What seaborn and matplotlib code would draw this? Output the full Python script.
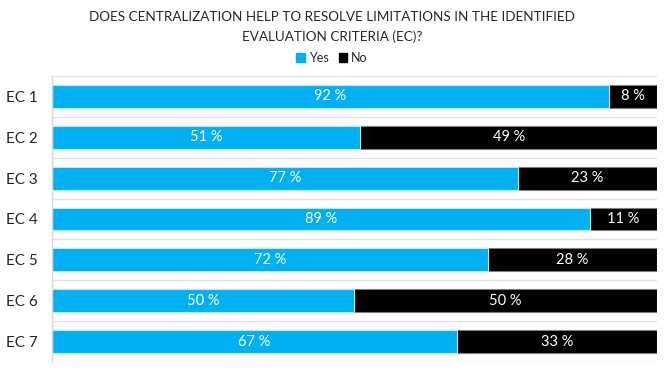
import seaborn as sns
import matplotlib.pyplot as plt
import pandas as pd
import numpy as np
from matplotlib.patches import Patch

categories = ["EC 1", "EC 2", "EC 3", "EC 4", "EC 5", "EC 6", "EC 7"]
yes_vals = [92, 51, 77, 89, 72, 50, 67]
no_vals = [8, 49, 23, 11, 28, 50, 33]

df = pd.DataFrame({"ec": categories, "Yes": yes_vals, "No": no_vals})
df["Total"] = df["Yes"] + df["No"]

sns.set_style("white")
plt.rcParams["font.family"] = ["Lato", "DejaVu Sans"]

fig = plt.figure(figsize=(6.64, 3.74), dpi=100)
ax = fig.add_axes([0.0783, 0.032, 0.911, 0.765])

blue = "#00B0F0"
# black full bar first, then blue on top -> stacked look
sns.barplot(data=df, y="ec", x="Total", color="black", orient="h", width=0.56,
            edgecolor="#7f7f7f", linewidth=0.8, ax=ax, saturation=1)
sns.barplot(data=df, y="ec", x="Yes", color=blue, orient="h", width=0.56,
            edgecolor="#bfe9fb", linewidth=0.8, ax=ax, saturation=1)

for i, (y, n) in enumerate(zip(yes_vals, no_vals)):
    ax.text(y / 2, i, f"{y} %", color="white", ha="center", va="center", fontsize=10.5)
    ax.text(y + n / 2, i, f"{n} %", color="white", ha="center", va="center", fontsize=10.5)

ax.set_xlim(0, 100)
ax.set_ylim(len(categories) - 0.5, -0.5)
ax.set_xlabel("")
ax.set_ylabel("")
ax.set_xticks([])
ax.set_yticks(range(len(categories)))
ax.set_yticklabels(categories, fontsize=11)
ax.tick_params(axis="y", length=0, pad=10)
ax.set_yticks(np.arange(-0.5, len(categories), 1), minor=True)
ax.tick_params(axis="y", which="minor", length=0)
ax.grid(axis="y", which="minor", color="#e3e3e3", linewidth=1)
ax.set_axisbelow(True)
for s in ["top", "right", "bottom"]:
    ax.spines[s].set_visible(False)
ax.spines["left"].set_color("#d9d9d9")
ax.spines["left"].set_linewidth(1)

fig.text(0.5, 0.928, "DOES CENTRALIZATION HELP TO RESOLVE LIMITATIONS IN THE IDENTIFIED\nEVALUATION CRITERIA (EC)?",
         ha="center", va="center", fontsize=9.7, linespacing=1.65)

handles = [Patch(color=blue, label="Yes"), Patch(color="black", label="No")]
fig.legend(handles=handles, loc="center", bbox_to_anchor=(0.5, 0.845), ncol=2, frameon=False,
           fontsize=9, handlelength=0.7, handleheight=0.7, handletextpad=0.3, columnspacing=0.8)

fig.savefig("out.png", dpi=100)
